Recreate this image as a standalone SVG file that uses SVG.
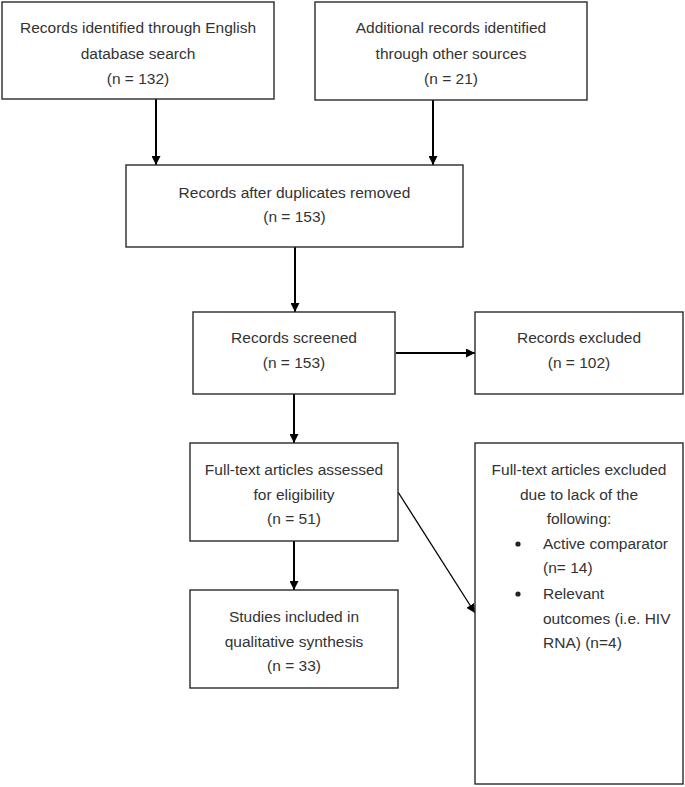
<svg xmlns="http://www.w3.org/2000/svg" width="685" height="787" viewBox="0 0 685 787">
<defs>
<style>
.box{fill:#fff;stroke:#2a2a2a;stroke-width:1.4}
.t{font-family:"Liberation Sans",Arial,sans-serif;font-size:15.5px;fill:#333;text-anchor:middle}
.l{text-anchor:start}
.c{stroke:#000;stroke-width:2;fill:none}
.d{stroke:#000;stroke-width:1.3;fill:none}
</style>
<marker id="ah" viewBox="0 0 10 10" refX="10" refY="5" markerWidth="9" markerHeight="9" markerUnits="userSpaceOnUse" orient="auto">
<path d="M0,0 L10,5 L0,10 Z" fill="#000"/>
</marker>
</defs>
<rect width="685" height="787" fill="#fff"/>
<g id="connectors">
<line class="c" x1="156" y1="99" x2="156" y2="165" marker-end="url(#ah)"/>
<line class="c" x1="433" y1="100" x2="433" y2="165" marker-end="url(#ah)"/>
<line class="c" x1="295" y1="247" x2="295" y2="312" marker-end="url(#ah)"/>
<line class="c" x1="396" y1="353" x2="475" y2="353" marker-end="url(#ah)"/>
<line class="c" x1="294" y1="394" x2="294" y2="443" marker-end="url(#ah)"/>
<line class="c" x1="294" y1="541" x2="294" y2="590" marker-end="url(#ah)"/>
<line class="d" x1="398" y1="492" x2="475" y2="613" marker-end="url(#ah)"/>
</g>
<g id="n1">
<rect class="box" x="2" y="2" width="272" height="97"/>
<text class="t" x="138" y="33">Records identified through English</text>
<text class="t" x="138" y="59">database search</text>
<text class="t" x="138" y="84">(n = 132)</text>
</g>
<g id="n2">
<rect class="box" x="315" y="2" width="272" height="98"/>
<text class="t" x="451" y="33">Additional records identified</text>
<text class="t" x="451" y="59">through other sources</text>
<text class="t" x="451" y="84">(n = 21)</text>
</g>
<g id="n3">
<rect class="box" x="126" y="165" width="337" height="82"/>
<text class="t" x="294.5" y="198">Records after duplicates removed</text>
<text class="t" x="294.5" y="222">(n = 153)</text>
</g>
<g id="n4">
<rect class="box" x="193" y="312" width="202" height="82"/>
<text class="t" x="294" y="343">Records screened</text>
<text class="t" x="294" y="368">(n = 153)</text>
</g>
<g id="n5">
<rect class="box" x="475" y="312" width="208" height="82"/>
<text class="t" x="579" y="343">Records excluded</text>
<text class="t" x="579" y="368">(n = 102)</text>
</g>
<g id="n6">
<rect class="box" x="190" y="443" width="208" height="98"/>
<text class="t" x="294" y="475">Full-text articles assessed</text>
<text class="t" x="294" y="500">for eligibility</text>
<text class="t" x="294" y="524">(n = 51)</text>
</g>
<g id="n7">
<rect class="box" x="190" y="590" width="208" height="98"/>
<text class="t" x="294" y="622">Studies included in</text>
<text class="t" x="294" y="647">qualitative synthesis</text>
<text class="t" x="294" y="671">(n = 33)</text>
</g>
<g id="n8">
<rect class="box" x="475" y="443" width="208" height="341"/>
<text class="t" x="579" y="475">Full-text articles excluded</text>
<text class="t" x="579" y="500">due to lack of the</text>
<text class="t" x="579" y="524">following:</text>
<circle cx="518" cy="544" r="2.6" fill="#222"/>
<text class="t l" x="543" y="549">Active comparator</text>
<text class="t l" x="543" y="573">(n= 14)</text>
<circle cx="518" cy="594" r="2.6" fill="#222"/>
<text class="t l" x="543" y="599">Relevant</text>
<text class="t l" x="543" y="624">outcomes (i.e. HIV</text>
<text class="t l" x="543" y="648">RNA) (n=4)</text>
</g>
</svg>
